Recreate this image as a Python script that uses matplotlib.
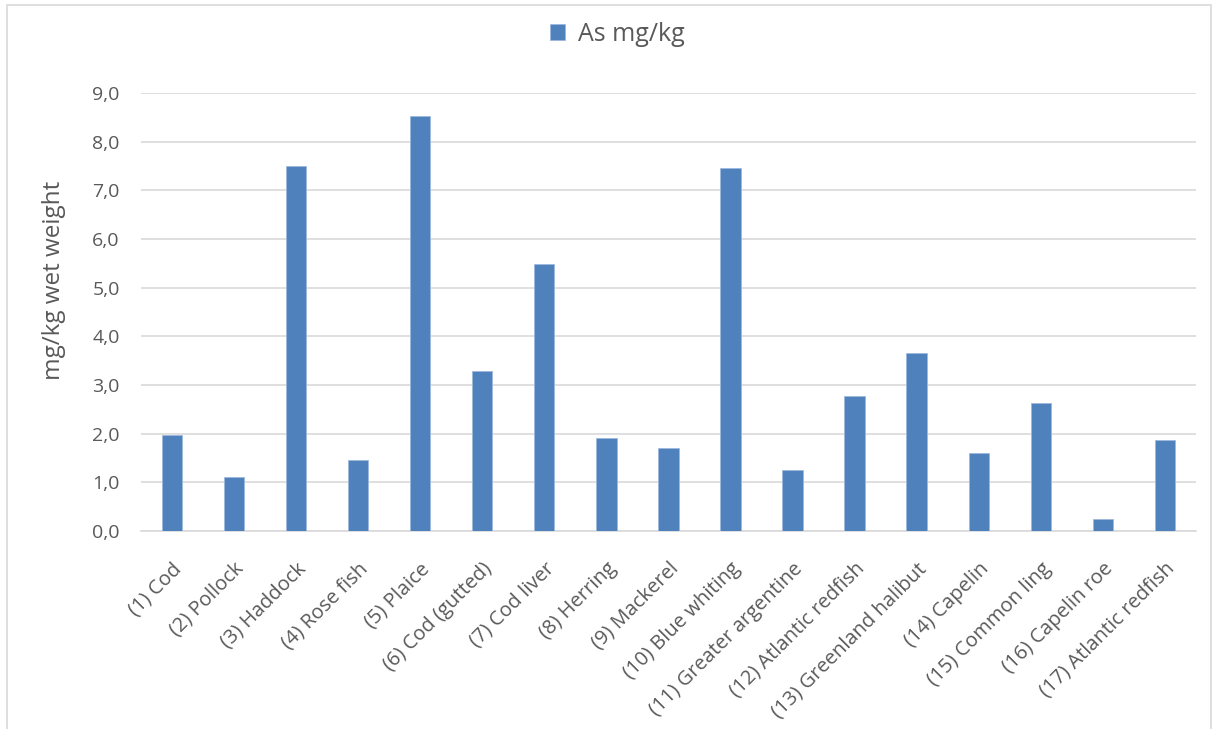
import matplotlib.pyplot as plt
from matplotlib.patches import Rectangle

species = ['(1) Cod', '(2) Pollock', '(3) Haddock', '(4) Rose fish', '(5) Plaice',
           '(6) Cod (gutted)', '(7) Cod liver', '(8) Herring', '(9) Mackerel',
           '(10) Blue whiting', '(11) Greater argentine', '(12) Atlantic redfish',
           '(13) Greenland halibut', '(14) Capelin', '(15) Common ling',
           '(16) Capelin roe', '(17) Atlantic redfish']
arsenic = [1.97, 1.10, 7.50, 1.45, 8.53, 3.29, 5.49, 1.91, 1.71,
           7.46, 1.26, 2.77, 3.66, 1.60, 2.63, 0.25, 1.86]
y_ticks = [0, 1, 2, 3, 4, 5, 6, 7, 8, 9]

plt.rcParams['font.family'] = ['Open Sans', 'DejaVu Sans']
grey = '#595959'

fig = plt.figure(figsize=(12.13, 7.29), dpi=100)
ax = fig.add_axes([0.116, 0.2716, 0.870, 0.6008])

x = range(len(species))
ax.bar(x, arsenic, width=0.33, color='#4F81BD', edgecolor='#9DB9DC',
       linewidth=0.6, label='As mg/kg', zorder=3)

ax.set_xlim(-0.5, len(species) - 0.5)
ax.set_ylim(0, 9)
ax.set_yticks(y_ticks)
ax.yaxis.set_major_formatter(plt.FuncFormatter(lambda v, p: ('%.1f' % v).replace('.', ',')))
ax.set_xticks(list(x))
ax.set_xticklabels(species, rotation=45, ha='right', rotation_mode='anchor')
ax.tick_params(axis='both', length=0, colors=grey)
ax.tick_params(axis='y', labelsize=14, pad=15)
ax.tick_params(axis='x', labelsize=14.5, pad=20)
ax.grid(axis='y', color='#D9D9D9', linewidth=1.2, zorder=0)
for side in ['top', 'right', 'left']:
    ax.spines[side].set_visible(False)
ax.spines['bottom'].set_color('#D9D9D9')
ax.spines['bottom'].set_linewidth(1.2)

ax.set_ylabel('mg/kg wet weight', fontsize=17.5, color=grey)
ax.yaxis.set_label_coords(-0.071, 0.573)

fig.legend(loc='center', bbox_to_anchor=(0.509, 0.953), frameon=False,
           fontsize=18, handlelength=0.6, handleheight=0.6, handletextpad=0.5,
           labelcolor=grey)

# light frame around the chart area
fig.patches.append(Rectangle((0.006, -0.01), 0.992, 1.003, transform=fig.transFigure,
                             fill=False, edgecolor='#D9D9D9', linewidth=1.2))

fig.savefig('out.png', dpi=100)
